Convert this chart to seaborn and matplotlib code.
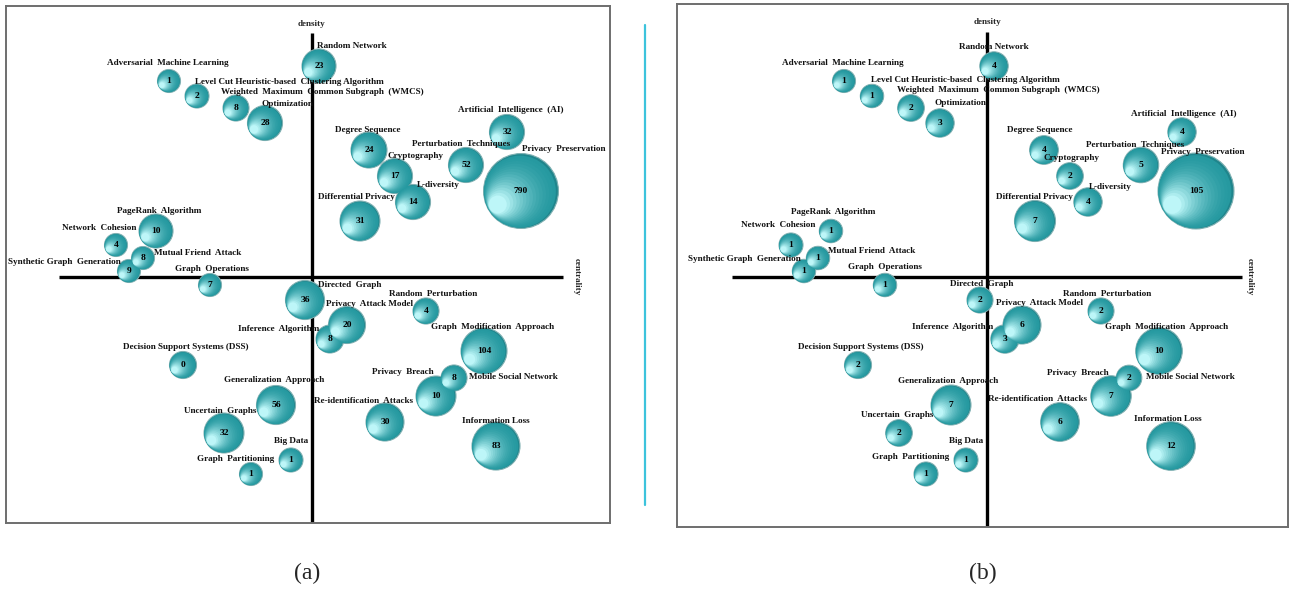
import numpy as np
import pandas as pd
import matplotlib
matplotlib.use('Agg')
import matplotlib.pyplot as plt
from matplotlib.path import Path
from matplotlib.colors import to_rgb
import seaborn as sns

# Strategic diagram data: keyword themes, their centrality/density and counts
topics = [
    'Adversarial  Machine Learning', 'Level Cut Heuristic-based  Clustering Algorithm',
    'Weighted  Maximum  Common Subgraph  (WMCS)', 'Optimization', 'Random Network',
    'PageRank  Algorithm', 'Network  Cohesion', 'Mutual Friend  Attack',
    'Synthetic Graph  Generation', 'Graph  Operations', 'Artificial  Intelligence  (AI)',
    'Degree Sequence', 'Perturbation  Techniques', 'Privacy  Preservation', 'Cryptography',
    'L-diversity', 'Differential Privacy', 'Directed  Graph', 'Inference  Algorithm',
    'Decision Support Systems (DSS)', 'Generalization  Approach', 'Uncertain  Graphs',
    'Big Data', 'Graph  Partitioning', 'Privacy  Attack Model', 'Random  Perturbation',
    'Graph  Modification  Approach', 'Mobile Social Network', 'Privacy  Breach',
    'Re-identification  Attacks', 'Information Loss',
]
centrality = [-1.43, -1.15, -0.76, -0.47, 0.07, -1.56, -1.96, -1.69, -1.83, -1.02,
              1.95, 0.57, 1.54, 2.09, 0.83, 1.01, 0.48, -0.07, 0.18, -1.29,
              -0.36, -0.88, -0.21, -0.61, 0.35, 1.14, 1.72, 1.42, 1.24, 0.73, 1.84]
density = [1.96, 1.81, 1.69, 1.54, 2.11, 0.46, 0.32, 0.19, 0.06, -0.08,
           1.45, 1.27, 1.12, 0.86, 1.01, 0.75, 0.56, -0.23, -0.62, -0.88,
           -1.28, -1.56, -1.83, -1.97, -0.48, -0.34, -0.74, -1.01, -1.19, -1.45, -1.69]
count_a = [1, 2, 8, 28, 23, 10, 4, 8, 9, 7, 32, 24, 52, 790, 17, 14, 31, 36, 8, 0,
           56, 32, 1, 1, 20, 4, 104, 8, 10, 30, 83]
count_b = [1, 1, 2, 3, 4, 1, 1, 1, 1, 1, 4, 4, 5, 105, 2, 4, 7, 2, 3, 2,
           7, 2, 1, 1, 6, 2, 10, 2, 7, 6, 12]
# relative bubble weight (area)
weight_a = [1.0, 1.09, 1.28, 2.32, 2.19, 2.19, 1.0, 1.0, 1.0, 1.0, 2.32, 2.45, 2.32, 10.6,
            2.32, 2.32, 3.02, 2.88, 1.48, 1.38, 2.88, 3.02, 1.09, 1.0, 2.59, 1.28, 4.0,
            1.28, 3.02, 2.73, 4.36]
weight_b = [1.0, 1.03, 1.34, 1.52, 1.52, 1.03, 1.09, 1.03, 1.03, 1.03, 1.52, 1.55, 2.37,
            10.9, 1.34, 1.52, 3.18, 1.28, 1.52, 1.38, 3.02, 1.34, 1.09, 1.09, 2.73, 1.28,
            4.1, 1.24, 3.09, 2.82, 4.46]

# label placement relative to each bubble (pixels, y downwards)
label_offsets_a = [(-1, -18), (92, -14), (86, -16), (22, -19), (33, -20), (3, -20), (-17, -17),
                   (55, -5), (-65, -9), (2, -16), (4, -22), (-1, -20), (-5, -21), (43, -42),
                   (20, -20), (25, -17), (-4, -24), (45, -15), (-51, -10), (3, -18), (-2, -25),
                   (-4, -22), (0, -19), (-15, -15), (23, -21), (7, -17), (9, -24), (59, -1),
                   (-33, -24), (-22, -21), (0, -25)]
label_offsets_b = [(-1, -18), (93, -16), (87, -18), (20, -20), (0, -19), (2, -19), (-13, -20),
                   (54, -7), (-60, -12), (0, -18), (2, -18), (-4, -20), (-6, -20), (7, -39),
                   (1, -18), (22, -15), (-1, -24), (2, -16), (-52, -12), (3, -18), (-3, -24),
                   (-2, -18), (0, -19), (-15, -17), (17, -22), (6, -17), (8, -24), (61, -1),
                   (-33, -23), (-22, -23), (-3, -27)]

sns.set_theme(style='white')
plt.rcParams['font.family'] = ['Liberation Serif', 'DejaVu Serif']

SIZES = (274, 2988)
SIZE_NORM = (1.0, 10.9)


def circle_marker(cx, cy, r):
    """Circle inside the unit box, so every layer is scaled the same way."""
    circ = Path.circle((cx, cy), r)
    verts = np.vstack([[[-1, -1]], [[1, 1]], circ.vertices])
    codes = np.concatenate([[Path.MOVETO, Path.MOVETO], circ.codes])
    return Path(verts, codes)


def shade(c1, c2, t):
    a, b = np.array(to_rgb(c1)), np.array(to_rgb(c2))
    return tuple(a + (b - a) * t)


def draw_panel(ax, df, wcol, ccol, offsets, lims, hline, vline, title_pos):
    ax.set_xlim(*lims[0])
    ax.set_ylim(*lims[1])
    ax.plot(hline, [0, 0], color='black', lw=2.4, zorder=1, solid_capstyle='butt')
    ax.plot([0, 0], vline, color='black', lw=2.4, zorder=1, solid_capstyle='butt')

    sns.scatterplot(data=df, x='centrality', y='density', size=wcol, sizes=SIZES,
                    size_norm=SIZE_NORM, marker=circle_marker(0, 0, 1), color='#1f858c',
                    edgecolor='#7fb0b2', linewidth=0.8, legend=False, ax=ax, zorder=2)
    # shaded sphere look: lighter, smaller discs drifting to the lower left
    for t in np.linspace(0.05, 1.0, 16):
        sns.scatterplot(data=df, x='centrality', y='density', size=wcol, sizes=SIZES,
                        size_norm=SIZE_NORM,
                        marker=circle_marker(-0.62 * t, -0.36 * t, 1 - 0.76 * t),
                        color=shade('#2599a0', '#bdf6f8', t ** 1.8), linewidth=0,
                        legend=False, ax=ax, zorder=2)

    for name, x, y, n, (dx, dy) in zip(df['topic'], df['centrality'], df['density'],
                                       df[ccol], offsets):
        ax.annotate(name, xy=(x, y), xytext=(dx, -dy), textcoords='offset pixels',
                    ha='center', va='center', fontsize=6.6, fontweight='bold',
                    color='#111111', zorder=5)
        ax.text(x, y, str(n), ha='center', va='center', fontsize=6.8,
                fontweight='bold', color='black', zorder=6)

    ax.text(0, title_pos[0], 'density', ha='center', va='center', fontsize=6.6,
            fontweight='bold')
    ax.text(title_pos[1], 0, 'centrality', ha='center', va='center', rotation=-90,
            fontsize=6.6, fontweight='bold')

    ax.set_xticks([])
    ax.set_yticks([])
    ax.set_xlabel('')
    ax.set_ylabel('')
    for sp in ax.spines.values():
        sp.set_visible(True)
        sp.set_color('#6e6e6e')
        sp.set_linewidth(1.4)


df = pd.DataFrame({'topic': topics, 'centrality': centrality, 'density': density,
                   'count_a': count_a, 'count_b': count_b,
                   'weight_a': weight_a, 'weight_b': weight_b})

fig = plt.figure(figsize=(12.89, 5.91), dpi=100)
ax_a = fig.add_axes([6 / 1289, 68 / 591, 604 / 1289, 517 / 591])
ax_b = fig.add_axes([677 / 1289, 64 / 591, 611 / 1289, 523 / 591])

draw_panel(ax_a, df, 'weight_a', 'count_a', label_offsets_a,
           ((-3.06, 2.98), (-2.46, 2.71)), [-2.53, 2.51], [-2.46, 2.44], (2.53, 2.65))
draw_panel(ax_b, df, 'weight_b', 'count_b', label_offsets_b,
           ((-3.10, 3.01), (-2.50, 2.73)), [-2.55, 2.55], [-2.50, 2.45], (2.55, 2.63))

# separator between the two panels
fig.add_artist(plt.Line2D([645 / 1289, 645 / 1289], [86 / 591, 566 / 591],
                          color='#3cc3dc', lw=1.6))
fig.text(307 / 1289, 18 / 591, '(a)', ha='center', va='center', fontsize=17)
fig.text(983 / 1289, 18 / 591, '(b)', ha='center', va='center', fontsize=17)

fig.savefig('out.png', dpi=100)
plt.close(fig)
